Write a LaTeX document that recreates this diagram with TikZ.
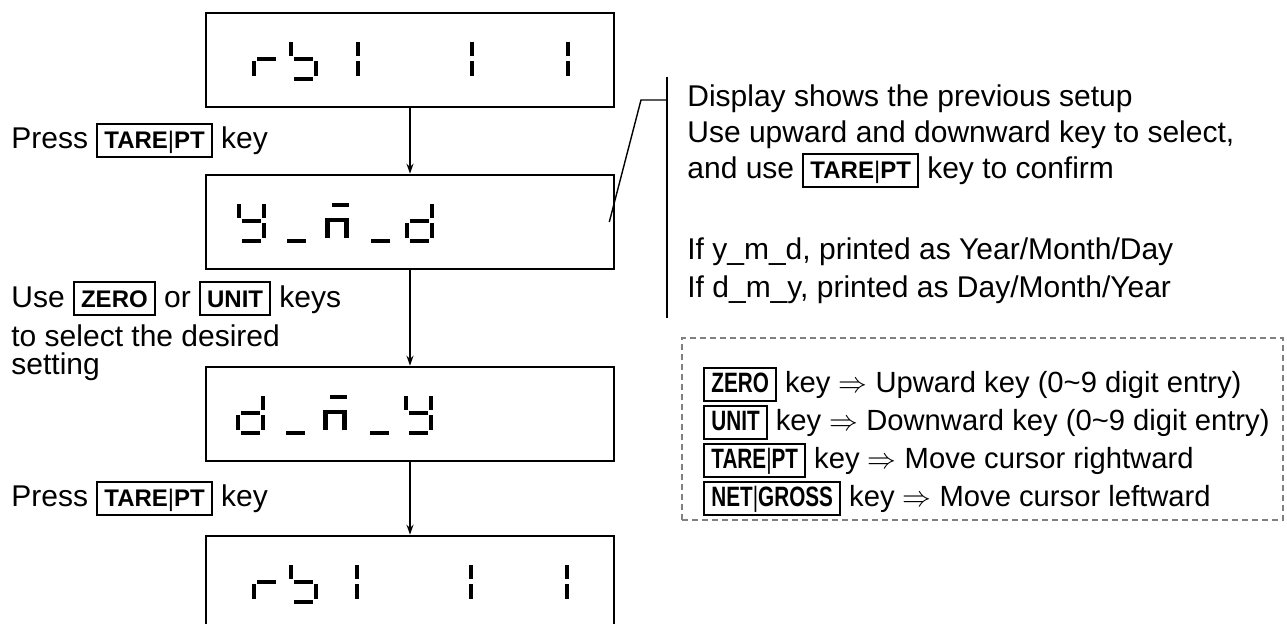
\documentclass[tikz,border=0pt]{standalone}
\usepackage{fontspec}
\setmainfont{Liberation Sans}
\usetikzlibrary{arrows.meta,positioning}

% key caps written inside the text lines
\newcommand{\keytag}[1]{{\setlength{\fboxsep}{0pt}\setlength{\fboxrule}{1pt}%
  \fbox{\rule[-3.5pt]{0pt}{15.5pt}\hspace{3pt}{\fontsize{12}{12}\selectfont\bfseries #1}\hspace{3pt}}}}
% narrower, taller key caps of the legend
\newcommand{\keytagn}[1]{{\setlength{\fboxsep}{0pt}\setlength{\fboxrule}{1pt}%
  \fbox{\rule[-3.5pt]{0pt}{15.5pt}\hspace{3pt}\scalebox{0.74}[1]{\fontsize{14}{14}\selectfont\bfseries #1}\hspace{3pt}}}}
\newcommand{\barsep}{{\mdseries|}}

% seven segment cells of the display
\tikzset{
  seg a/.pic={\fill (5,0) rectangle (24,4);},
  seg b/.pic={\fill (25,1) rectangle (29,15);},
  seg c/.pic={\fill (25,20) rectangle (29,35);},
  seg d/.pic={\fill (5,36) rectangle (24,40);},
  seg e/.pic={\fill (0,20) rectangle (4,35);},
  seg f/.pic={\fill (0,1) rectangle (4,15);},
  seg g/.pic={\fill (5,16) rectangle (24,20);},
  seg m/.pic={\fill (7,0) rectangle (24,4); \fill (0,15) rectangle (5,35);
    \fill (5,15) rectangle (19,19); \fill (19,15) rectangle (24,35);},
}
\newcommand{\lcd}[3]{\foreach \s in {#3} {\pic at (#1,#2) {seg \s};}}

\begin{document}
\begin{tikzpicture}[x=0.5pt, y=-0.5pt, >={Stealth[length=5pt,width=3.5pt]},
    dispbox/.style={draw, line width=1.3pt, minimum width=204pt, minimum height=47pt, inner sep=0pt},
    flow/.style={->, line width=1pt},
    note/.style={anchor=base west, align=left, inner sep=0pt, font=\fontsize{15}{18}\selectfont},
    legendbox/.style={draw=gray, line width=0.8pt, dash pattern=on 3pt off 2pt, minimum width=300.5pt, minimum height=91pt}]
    \useasboundingbox (0,0) rectangle (1287,624);

    % displays
    \node[dispbox] (rb1) at (410,60) {};
    \node[dispbox] (ymd) at (410,222) {};
    \node[dispbox] (dmy) at (410,414) {};
    \node[dispbox] (rb2) at (410,583) {};

    % rb 1 1 1
    \lcd{252}{41}{e,g} \lcd{289}{41}{f,g,c,d}
    \lcd{331}{41}{b,c} \lcd{445}{41}{b,c} \lcd{541}{41}{b,c}
    % y_m_d
    \lcd{237}{203}{b,c,d,f,g} \lcd{282}{203}{d} \lcd{325}{203}{m}
    \lcd{366}{203}{d} \lcd{405}{203}{b,c,d,e,g}
    % d_m_y
    \lcd{236}{395}{b,c,d,e,g} \lcd{281}{395}{d} \lcd{323}{395}{m}
    \lcd{365}{395}{d} \lcd{404}{395}{b,c,d,f,g}
    % rb 1 1 1 again
    \lcd{252}{564}{e,g} \lcd{289}{564}{f,g,c,d}
    \lcd{330}{564}{b,c} \lcd{444}{564}{b,c} \lcd{540}{564}{b,c}

    \draw[flow] (rb1) -- (ymd);
    \draw[flow] (ymd) -- (dmy);
    \draw[flow] (dmy) -- (rb2);

    % steps on the left
    \node[note] (press1) at (11,149) {Press \keytag{TARE\barsep PT} key};
    \node[note, font=\fontsize{15}{14}\selectfont] (usekeys) at (11,375)
      {Use \keytag{ZERO} or \keytag{UNIT} keys\\[3.5pt]to select the desired\\setting};
    \node[note] (press2) at (11,507) {Press \keytag{TARE\barsep PT} key};

    % remark and its bracket
    \node[note] (setup) at (687,179) {Display shows the previous setup\\
      Use upward and downward key to select,\\and use \keytag{TARE\barsep PT} key to confirm};
    \node[note, font=\fontsize{15}{19}\selectfont] (order) at (687,298)
      {If y\_m\_d, printed as Year/Month/Day\\If d\_m\_y, printed as Day/Month/Year};
    \coordinate (brktop) at (667,77);
    \coordinate (brkbot) at (667,318);
    \coordinate (brkknee) at (641,100);
    \draw[line width=0.7pt] (brktop) -- (brkbot);
    \draw[line width=0.7pt] (brkknee -| brktop) -- (brkknee) -- ([xshift=-3pt]ymd.east);

    % key legend
    \node[legendbox] (legend) at (982.5,429) {};
    \node[note, font=\fontsize{14.6}{19}\selectfont] (legendtxt) at (703,507)
      {\keytagn{ZERO} key $\Rightarrow$ Upward key (0\textasciitilde9 digit entry)\\
       \keytagn{UNIT} key $\Rightarrow$ Downward key (0\textasciitilde9 digit entry)\\
       \keytagn{TARE\barsep PT} key $\Rightarrow$ Move cursor rightward\\
       \keytagn{NET\barsep GROSS} key $\Rightarrow$ Move cursor leftward};
\end{tikzpicture}
\end{document}
